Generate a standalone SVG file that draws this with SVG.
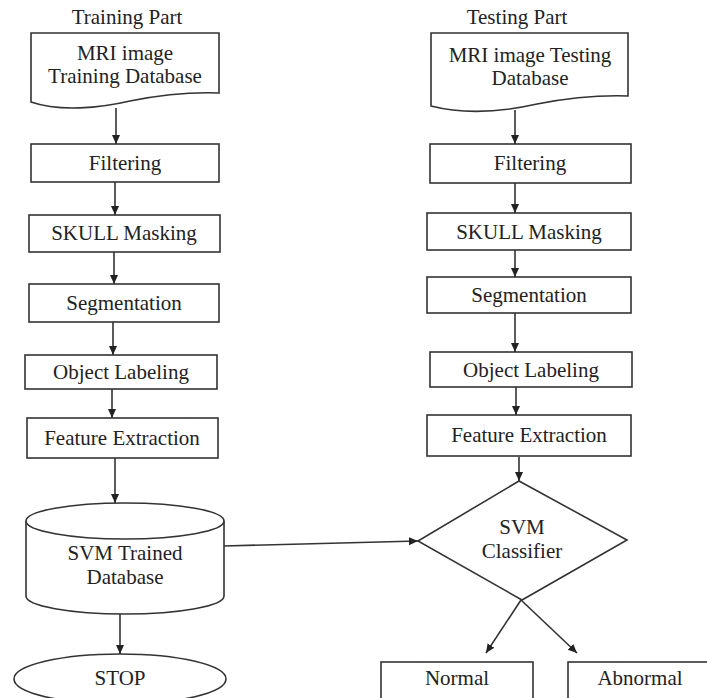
<svg xmlns="http://www.w3.org/2000/svg" width="707" height="698" viewBox="0 0 707 698">
  <style>
    .shape { fill: #fff; stroke: #333; stroke-width: 1.6; }
    .lbl { font-family: "Liberation Serif", "Times New Roman", serif; font-size: 21px; fill: #222; text-anchor: middle; dominant-baseline: central; }
    .edge { stroke: #333; stroke-width: 1.6; fill: none; marker-end: url(#arrow); }
  </style>
  <defs>
    <marker id="arrow" markerWidth="10" markerHeight="10" refX="9" refY="5" orient="auto" markerUnits="userSpaceOnUse">
      <path d="M0,1 L9,5 L0,9 Z" fill="#222"/>
    </marker>
  </defs>
  <rect width="707" height="698" fill="#fff"/>

  <!-- column headings -->
  <text class="lbl" x="127" y="17">Training Part</text>
  <text class="lbl" x="517" y="17">Testing Part</text>

  <!-- training column -->
  <g id="train-db">
    <path class="shape" d="M31,33 H219 V93 C190,92 160,95 130,101 C100,108 60,112 31,102 Z"/>
    <text class="lbl" x="125" y="53">MRI image</text>
    <text class="lbl" x="125" y="76">Training Database</text>
  </g>
  <g id="train-filter">
    <rect class="shape" x="31" y="144" width="188" height="38"/>
    <text class="lbl" x="125" y="163">Filtering</text>
  </g>
  <g id="train-skull">
    <rect class="shape" x="29" y="215" width="191" height="37"/>
    <text class="lbl" x="124" y="233">SKULL Masking</text>
  </g>
  <g id="train-seg">
    <rect class="shape" x="29" y="284" width="190" height="38"/>
    <text class="lbl" x="124" y="303">Segmentation</text>
  </g>
  <g id="train-label">
    <rect class="shape" x="25" y="355" width="192" height="34"/>
    <text class="lbl" x="121" y="372">Object Labeling</text>
  </g>
  <g id="train-feat">
    <rect class="shape" x="27" y="418" width="191" height="40"/>
    <text class="lbl" x="122" y="438">Feature Extraction</text>
  </g>
  <g id="svm-db">
    <path class="shape" d="M26,521 V596 A99,18 0 0 0 224,596 V521"/>
    <ellipse class="shape" cx="125" cy="521" rx="99" ry="18"/>
    <text class="lbl" x="125" y="553">SVM Trained</text>
    <text class="lbl" x="125" y="577">Database</text>
  </g>
  <g id="stop">
    <ellipse class="shape" cx="120" cy="679" rx="106" ry="25"/>
    <text class="lbl" x="120" y="678">STOP</text>
  </g>

  <!-- testing column -->
  <g id="test-db">
    <path class="shape" d="M431,33 H628 V96 C598,95 568,98 537,104 C506,111 466,115 431,106 Z"/>
    <text class="lbl" x="530" y="55">MRI image Testing</text>
    <text class="lbl" x="530" y="78">Database</text>
  </g>
  <g id="test-filter">
    <rect class="shape" x="430" y="144" width="201" height="39"/>
    <text class="lbl" x="530" y="163">Filtering</text>
  </g>
  <g id="test-skull">
    <rect class="shape" x="427" y="213" width="204" height="37"/>
    <text class="lbl" x="529" y="232">SKULL Masking</text>
  </g>
  <g id="test-seg">
    <rect class="shape" x="427" y="277" width="204" height="36"/>
    <text class="lbl" x="529" y="295">Segmentation</text>
  </g>
  <g id="test-label">
    <rect class="shape" x="430" y="352" width="202" height="35"/>
    <text class="lbl" x="531" y="370">Object Labeling</text>
  </g>
  <g id="test-feat">
    <rect class="shape" x="427" y="415" width="204" height="41"/>
    <text class="lbl" x="529" y="435">Feature Extraction</text>
  </g>
  <g id="svm-classifier">
    <polygon class="shape" points="519,481 627,540 522,600 418,541"/>
    <text class="lbl" x="522" y="527">SVM</text>
    <text class="lbl" x="522" y="551">Classifier</text>
  </g>
  <g id="normal">
    <rect class="shape" x="381" y="662" width="152" height="50"/>
    <text class="lbl" x="457" y="678">Normal</text>
  </g>
  <g id="abnormal">
    <rect class="shape" x="568" y="662" width="150" height="50"/>
    <text class="lbl" x="640" y="678">Abnormal</text>
  </g>

  <!-- connectors -->
  <g id="connectors">
    <line class="edge" x1="116" y1="108" x2="116" y2="144"/>
    <line class="edge" x1="115" y1="182" x2="115" y2="215"/>
    <line class="edge" x1="114" y1="252" x2="114" y2="284"/>
    <line class="edge" x1="113" y1="322" x2="113" y2="355"/>
    <line class="edge" x1="112" y1="389" x2="112" y2="418"/>
    <line class="edge" x1="115" y1="458" x2="115" y2="503"/>
    <line class="edge" x1="120" y1="614" x2="120" y2="654"/>
    <line class="edge" x1="224" y1="546" x2="418" y2="541"/>

    <line class="edge" x1="515" y1="110" x2="515" y2="144"/>
    <line class="edge" x1="515" y1="183" x2="515" y2="213"/>
    <line class="edge" x1="515" y1="250" x2="515" y2="277"/>
    <line class="edge" x1="515" y1="313" x2="515" y2="352"/>
    <line class="edge" x1="516" y1="387" x2="516" y2="415"/>
    <line class="edge" x1="519" y1="457" x2="519" y2="481"/>
    <line class="edge" x1="521" y1="600" x2="486" y2="653"/>
    <line class="edge" x1="521" y1="600" x2="577" y2="653"/>
  </g>
</svg>
